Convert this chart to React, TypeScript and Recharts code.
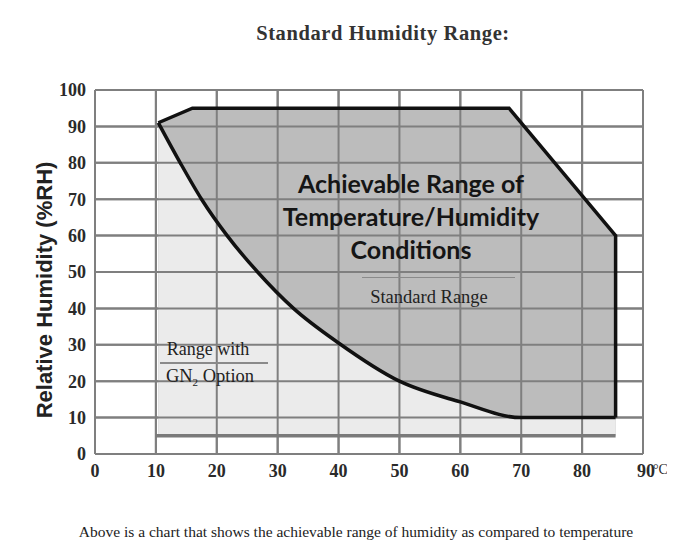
import { FC } from "react";
import {
  Area,
  CartesianGrid,
  ComposedChart,
  Line,
  ReferenceLine,
  XAxis,
  YAxis,
} from "recharts";

// lower edge of the achievable range (temperature °C -> %RH)
const curveTemps = [10.4, 14, 17.5, 21.7, 26.7, 32.6, 40, 50, 60, 70, 85.5];
const curveHumidity = [91, 80, 70, 60, 50, 40, 30.5, 20, 14.3, 10, 10];

// upper / right edge of the achievable range
const edgeTemps = [10.4, 16, 68, 85.5, 85.5];
const edgeHumidity = [91, 95, 95, 60, 10];

// GN2 option floor
const gnTemps = [10, 85.5];
const gnHumidity = [5, 5];

const xTicks = [0, 10, 20, 30, 40, 50, 60, 70, 80, 90];
const yTicks = [0, 10, 20, 30, 40, 50, 60, 70, 80, 90, 100];

const toPoints = (ts: number[], hs: number[]) =>
  ts.map((t, i) => ({ t, h: hs[i] }));

const curveData = toPoints(curveTemps, curveHumidity);
const edgeData = toPoints(edgeTemps, edgeHumidity);
const gnData = toPoints(gnTemps, gnHumidity);

const tickFont = {
  fontFamily: "'Liberation Serif', serif",
  fontWeight: 700,
  fontSize: 18,
  fill: "#2a2a2a",
};

const gridColor = "#7f7f7f";

const XTick: FC<any> = ({ x, y, payload }) =>
  payload.value === 90 ? (
    <text x={x - 6} y={y} dy={13} textAnchor="start" {...tickFont}>
      90
    </text>
  ) : (
    <text x={x} y={y} dy={13} textAnchor="middle" {...tickFont}>
      {payload.value}
    </text>
  );

const abs = (x: number, y: number): React.CSSProperties => ({
  position: "absolute",
  left: x,
  top: y,
  transform: "translate(-50%, -50%)",
  whiteSpace: "nowrap",
});

const serif = "'Liberation Serif', serif";

const App: FC = () => {
  return (
    <div
      style={{
        position: "relative",
        width: 675,
        height: 559,
        margin: "-8px 0 -8px -8px",
        background: "#fff",
      }}
    >
      <ComposedChart
        width={675}
        height={559}
        margin={{ top: 90, right: 32, bottom: 75, left: 55 }}
      >
        <XAxis
          dataKey="t"
          type="number"
          domain={[0, 90]}
          ticks={xTicks}
          axisLine={false}
          tickLine={false}
          tickSize={0}
          tickMargin={10}
          height={30}
          tick={<XTick />}
        />
        <YAxis
          type="number"
          domain={[0, 100]}
          ticks={yTicks}
          axisLine={false}
          tickLine={false}
          tickSize={0}
          tickMargin={9}
          width={40}
          tick={{ ...tickFont }}
        />
        <CartesianGrid stroke={gridColor} strokeWidth={2} />
        <Area
          data={edgeData}
          dataKey="h"
          type="linear"
          baseValue={5}
          fill="#bcbcbc"
          fillOpacity={1}
          stroke="none"
          isAnimationActive={false}
        />
        <Area
          data={curveData}
          dataKey="h"
          type="monotone"
          baseValue={5}
          fill="#ebebeb"
          fillOpacity={1}
          stroke="none"
          isAnimationActive={false}
        />
        {xTicks.map((t) => (
          <ReferenceLine
            key={"x" + t}
            x={t}
            stroke={gridColor}
            strokeWidth={2}
          />
        ))}
        {yTicks.map((h) => (
          <ReferenceLine
            key={"y" + h}
            y={h}
            stroke={gridColor}
            strokeWidth={2}
          />
        ))}
        <Line
          data={gnData}
          dataKey="h"
          type="linear"
          stroke="#7a7a7a"
          strokeWidth={3.5}
          dot={false}
          isAnimationActive={false}
        />
        <Line
          data={curveData}
          dataKey="h"
          type="monotone"
          stroke="#111"
          strokeWidth={3.5}
          dot={false}
          isAnimationActive={false}
        />
        <Line
          data={edgeData}
          dataKey="h"
          type="linear"
          stroke="#111"
          strokeWidth={3.5}
          dot={false}
          isAnimationActive={false}
        />
      </ComposedChart>

      <div
        style={{
          position: "absolute",
          left: 653,
          top: 462,
          fontFamily: serif,
          fontSize: 14,
          lineHeight: "16px",
          color: "#2a2a2a",
          whiteSpace: "nowrap",
        }}
      >
        °C
      </div>

      <div
        style={{
          ...abs(383, 33),
          fontFamily: serif,
          fontWeight: 700,
          fontSize: 20.5,
          letterSpacing: 0.6,
          color: "#333",
        }}
      >
        Standard Humidity Range:
      </div>

      <div
        style={{
          ...abs(45, 290),
          transform: "translate(-50%, -50%) rotate(-90deg)",
          fontFamily: "'Liberation Sans', sans-serif",
          fontWeight: 700,
          fontSize: 22,
          color: "#222",
        }}
      >
        Relative Humidity (%RH)
      </div>

      <div
        style={{
          ...abs(411, 216),
          textAlign: "center",
          fontFamily: "Lato, sans-serif",
          fontWeight: 700,
          fontSize: 25,
          lineHeight: "33px",
          color: "#151515",
        }}
      >
        Achievable Range of
        <br />
        Temperature/Humidity
        <br />
        Conditions
      </div>

      <div
        style={{
          position: "absolute",
          left: 362,
          top: 277,
          width: 153,
          height: 1,
          background: "#8a8a8a",
        }}
      />
      <div
        style={{
          ...abs(429, 297),
          fontFamily: serif,
          fontSize: 18.5,
          color: "#222",
        }}
      >
        Standard Range
      </div>

      <div
        style={{
          ...abs(208, 349),
          fontFamily: serif,
          fontSize: 18,
          color: "#222",
        }}
      >
        Range with
      </div>
      <div
        style={{
          position: "absolute",
          left: 160,
          top: 362,
          width: 108,
          height: 2,
          background: "#8a8a8a",
        }}
      />
      <div
        style={{
          ...abs(210, 377),
          fontFamily: serif,
          fontSize: 18.5,
          color: "#222",
        }}
      >
        GN<sub style={{ fontSize: 11 }}>2</sub> Option
      </div>

      <div
        style={{
          ...abs(356, 532),
          fontFamily: serif,
          fontSize: 15.5,
          color: "#222",
        }}
      >
        Above is a chart that shows the achievable range of humidity as compared
        to temperature
      </div>
    </div>
  );
};

export default App;
